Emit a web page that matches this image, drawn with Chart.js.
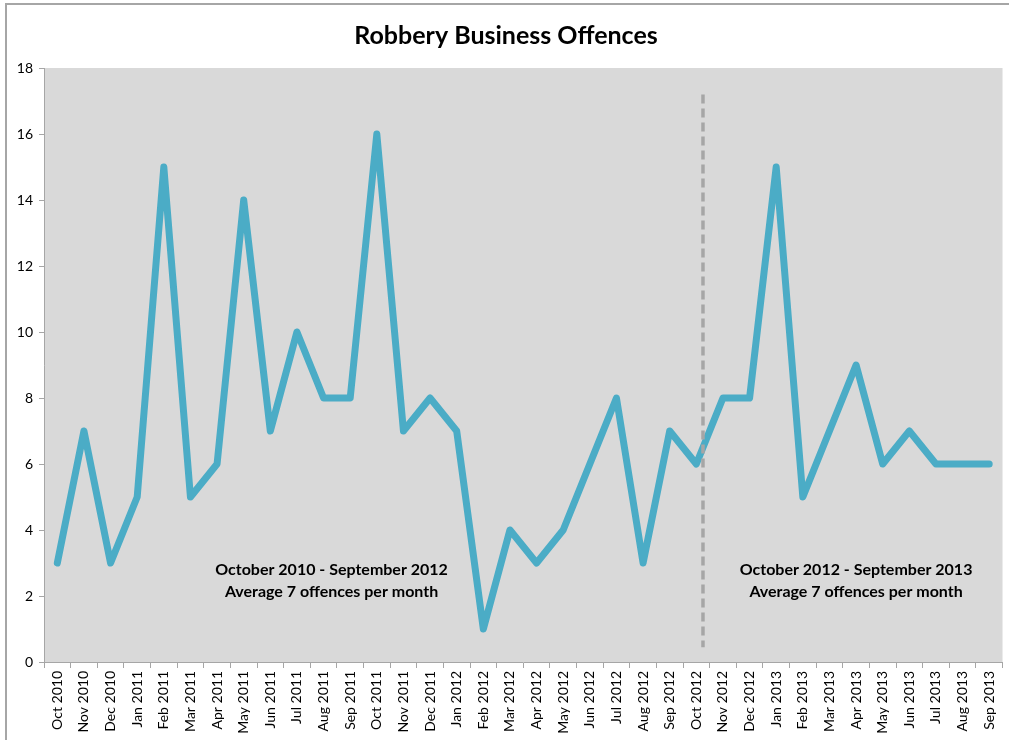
<!DOCTYPE html>
<html>
<head>
<meta charset="utf-8">
<script src="https://cdn.jsdelivr.net/npm/chart.js@4"></script>
<style>
  html, body { margin: 0; padding: 0; background: #fff; }
  #wrap { width: 1009px; height: 740px; position: relative; }
</style>
</head>
<body>
<div id="wrap"><canvas id="chart" width="1009" height="740"></canvas></div>
<script>
// monthly robbery business offences, Oct 2010 - Sep 2013
const months = [
  'Oct 2010', 'Nov 2010', 'Dec 2010', 'Jan 2011', 'Feb 2011', 'Mar 2011',
  'Apr 2011', 'May 2011', 'Jun 2011', 'Jul 2011', 'Aug 2011', 'Sep 2011',
  'Oct 2011', 'Nov 2011', 'Dec 2011', 'Jan 2012', 'Feb 2012', 'Mar 2012',
  'Apr 2012', 'May 2012', 'Jun 2012', 'Jul 2012', 'Aug 2012', 'Sep 2012',
  'Oct 2012', 'Nov 2012', 'Dec 2012', 'Jan 2013', 'Feb 2013', 'Mar 2013',
  'Apr 2013', 'May 2013', 'Jun 2013', 'Jul 2013', 'Aug 2013', 'Sep 2013'
];
const offences = [
  3, 7, 3, 5, 15, 5,
  6, 14, 7, 10, 8, 8,
  16, 7, 8, 7, 1, 4,
  3, 4, 6, 8, 3, 7,
  6, 8, 8, 15, 5, 7,
  9, 6, 7, 6, 6, 6
];
const yTicks = [0, 2, 4, 6, 8, 10, 12, 14, 16, 18];

// period split marker and the two period notes
const splitIndex = 24;
const periodNotes = [
  { at: 10.3, value: 2.8, lines: ['October 2010 - September 2012', 'Average 7 offences per month'] },
  { at: 30.0, value: 2.8, lines: ['October 2012 - September 2013', 'Average 7 offences per month'] }
];

const fontFamily = 'Lato, "Open Sans", sans-serif';

const plotBackground = {
  id: 'plotBackground',
  beforeDraw(chart) {
    const { ctx, chartArea: a } = chart;
    ctx.save();
    // outer chart border (top and left visible)
    ctx.strokeStyle = '#a6a6a6';
    ctx.lineWidth = 2;
    ctx.strokeRect(6, 4, 1020, 760);
    ctx.fillStyle = '#d9d9d9';
    ctx.fillRect(a.left, a.top, a.right - a.left, a.bottom - a.top);
    ctx.restore();
  }
};

const splitAndNotes = {
  id: 'splitAndNotes',
  afterDatasetsDraw(chart) {
    const { ctx, scales: { x, y } } = chart;
    const p0 = x.getPixelForValue(splitIndex);
    const p1 = x.getPixelForValue(splitIndex + 1);
    const sx = p0 + (p1 - p0) * 0.25;
    ctx.save();
    ctx.strokeStyle = '#a6a6a6';
    ctx.lineWidth = 3.5;
    ctx.setLineDash([9, 5]);
    ctx.beginPath();
    ctx.moveTo(sx, y.getPixelForValue(17.2));
    ctx.lineTo(sx, y.getPixelForValue(0.45));
    ctx.stroke();
    ctx.setLineDash([]);

    ctx.fillStyle = '#000';
    ctx.font = 'bold 16px ' + fontFamily;
    ctx.textAlign = 'center';
    ctx.textBaseline = 'middle';
    const step = x.getPixelForValue(1) - x.getPixelForValue(0);
    periodNotes.forEach(n => {
      const cx = x.getPixelForValue(0) + n.at * step;
      const cy = y.getPixelForValue(n.value);
      n.lines.forEach((t, i) => ctx.fillText(t, cx, cy + i * 22));
    });
    ctx.restore();
  }
};

new Chart(document.getElementById('chart'), {
  type: 'line',
  data: {
    labels: months,
    datasets: [{
      label: 'Offences',
      data: offences,
      borderColor: '#4bacc6',
      borderWidth: 7,
      pointRadius: 0,
      tension: 0,
      borderJoinStyle: 'round',
      borderCapStyle: 'round',
      fill: false
    }]
  },
  options: {
    responsive: false,
    animation: false,
    layout: { padding: { left: 0, right: -3, top: 0, bottom: 0 } },
    plugins: {
      legend: { display: false },
      tooltip: { enabled: false },
      title: {
        display: true,
        text: 'Robbery Business Offences',
        color: '#000',
        font: { family: fontFamily, size: 25, weight: 'bold' },
        padding: { top: 21, bottom: 17 }
      }
    },
    scales: {
      x: {
        offset: true,
        grid: {
          display: true,
          drawOnChartArea: false,
          drawTicks: true,
          tickLength: 6,
          color: '#a6a6a6',
          offset: true
        },
        border: { color: '#a6a6a6', width: 1 },
        ticks: {
          color: '#000',
          font: { family: fontFamily, size: 14 },
          minRotation: 90,
          maxRotation: 90,
          autoSkip: false,
          padding: 3
        },
        afterFit(scale) { scale.height = 78; }
      },
      y: {
        min: 0,
        max: 18,
        afterBuildTicks(scale) { scale.ticks = yTicks.map(v => ({ value: v })); },
        grid: {
          drawOnChartArea: false,
          drawTicks: true,
          tickLength: 5,
          color: '#a6a6a6'
        },
        border: { color: '#a6a6a6', width: 1 },
        ticks: {
          color: '#000',
          font: { family: fontFamily, size: 14 },
          padding: 6
        },
        afterFit(scale) { scale.width = 44; }
      }
    }
  },
  plugins: [plotBackground, splitAndNotes]
});
</script>
</body>
</html>
